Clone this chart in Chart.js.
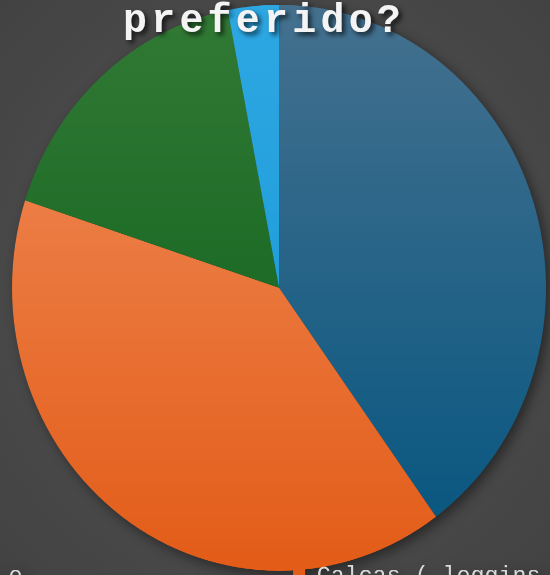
<!DOCTYPE html>
<html>
<head>
<meta charset="utf-8">
<script src="https://cdn.jsdelivr.net/npm/chart.js@4/dist/chart.umd.min.js"></script>
<style>
    html, body { margin: 0; padding: 0; width: 550px; height: 575px; overflow: hidden; }
    body { position: relative; background: radial-gradient(ellipse at 50% 50%, #5a5a5a 0%, #4a4a4a 60%, #424242 100%); }
    #wrap { position: absolute; left: -146px; top: 0; transform: scaleY(1.06); transform-origin: 0 0; }
    #pie { display: block; filter: drop-shadow(4px 4px 6px rgba(0,0,0,0.45)); }
    #title {
        position: absolute; left: 123px; top: 2px; margin: 0;
        font: bold 40px "Liberation Mono", monospace; line-height: 40px; letter-spacing: 4.2px;
        color: #f4f4f4; text-shadow: 3px 3px 5px rgba(0,0,0,0.7); white-space: nowrap;
    }
</style>
</head>
<body>
<div id="wrap"><canvas id="pie" width="850" height="587"></canvas></div>
<h1 id="title">preferido?</h1>
<script>
// -------------------- Data --------------------
const labels = [
    ["Vestidos e", "saias de todo tipo"],
    "Calças ( leggins, jeans )",
    "Shorts e bermudas",
    "Outros"
];
const values = [26, 26, 11, 2];

// top / bottom shade of each slice
const topColors = ['#45718f', '#f18f5d', '#327a36', '#2ea8e3'];
const bottomColors = ['#045580', '#e35c18', '#085d17', '#1595d3'];

// -------------------- Chart --------------------
function sliceFill(ctx) {
    const i = ctx.dataIndex;
    const area = ctx.chart.chartArea;
    if (!area || i === undefined) return bottomColors[i] || bottomColors[0];
    const cy = (area.top + area.bottom) / 2;
    const g = ctx.chart.ctx.createLinearGradient(0, cy - 267, 0, cy + 267);
    g.addColorStop(0, topColors[i]);
    g.addColorStop(1, bottomColors[i]);
    return g;
}

new Chart(document.getElementById('pie'), {
    type: 'pie',
    data: {
        labels: labels,
        datasets: [{
            data: values,
            backgroundColor: sliceFill,
            borderWidth: 0,
            radius: 267,
            clip: false
        }]
    },
    options: {
        responsive: false,
        animation: false,
        devicePixelRatio: 2,
        layout: { padding: { top: 16 } },
        plugins: {
            tooltip: { enabled: false },
            legend: {
                position: 'bottom',
                align: 'start',
                maxHeight: 60,
                labels: {
                    boxWidth: 12,
                    padding: 5,
                    color: '#d9d9d9',
                    font: { family: 'Liberation Mono', size: 23.3 }
                }
            }
        }
    }
});
</script>
</body>
</html>
